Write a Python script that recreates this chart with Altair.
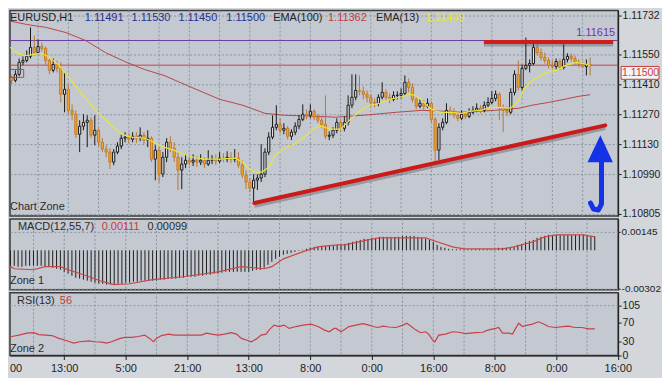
import altair as alt
import pandas as pd

FONT = "Liberation Sans"
BG = "#d3d6da"
PANEL = "#c4c9d1"
GRID = "#8a94a3"
DARK = "#1e1e1e"
NAVY = "#23308c"
RED = "#c63a3a"
YELLOW = "#e6e63a"
BLUE = "#1432e6"

# ---------------- data ----------------
first_open = 1.11457
close = [1.11443, 1.11429, 1.11457, 1.11513, 1.11522, 1.11541, 1.11583, 1.11559, 1.11587, 1.11578,
         1.11522, 1.11476, 1.11503, 1.11485, 1.11364, 1.11387, 1.11289, 1.11271, 1.11177, 1.11215,
         1.11233, 1.11243, 1.11173, 1.11196, 1.11140, 1.11108, 1.11094, 1.11047, 1.11094, 1.11122,
         1.11159, 1.11164, 1.11154, 1.11168, 1.11159, 1.11173, 1.11150, 1.11159, 1.11061, 1.11103,
         1.10991, 1.11070, 1.11140, 1.11112, 1.11070, 1.11010, 1.11038, 1.11056, 1.11047, 1.11056,
         1.11047, 1.11056, 1.11038, 1.11056, 1.11061, 1.11052, 1.11066, 1.11061, 1.11070, 1.11061,
         1.11066, 1.11033, 1.10987, 1.10954, 1.10926, 1.10963, 1.10973, 1.10991, 1.11094, 1.11164,
         1.11210, 1.11224, 1.11196, 1.11205, 1.11168, 1.11187, 1.11215, 1.11247, 1.11271, 1.11266,
         1.11285, 1.11257, 1.11243, 1.11224, 1.11168, 1.11173, 1.11196, 1.11233, 1.11205, 1.11233,
         1.11313, 1.11350, 1.11382, 1.11378, 1.11364, 1.11350, 1.11326, 1.11322, 1.11350, 1.11373,
         1.11350, 1.11340, 1.11359, 1.11359, 1.11368, 1.11420, 1.11396, 1.11340, 1.11308, 1.11322,
         1.11308, 1.11322, 1.11247, 1.11103, 1.11210, 1.11233, 1.11289, 1.11280, 1.11266, 1.11252,
         1.11271, 1.11261, 1.11280, 1.11289, 1.11299, 1.11289, 1.11313, 1.11326, 1.11345, 1.11364,
         1.11303, 1.11289, 1.11280, 1.11373, 1.11457, 1.11396, 1.11485, 1.11499, 1.11508, 1.11583,
         1.11559, 1.11536, 1.11522, 1.11499, 1.11494, 1.11517, 1.11489, 1.11527, 1.11541, 1.11531,
         1.11513, 1.11503, 1.11494, 1.11503, 1.11500]
high = [1.11466, 1.11452, 1.11476, 1.11531, 1.11541, 1.11569, 1.11676, 1.11638, 1.11620, 1.11606,
        1.11587, 1.11531, 1.11531, 1.11522, 1.11513, 1.11466, 1.11410, 1.11317, 1.11289, 1.11243,
        1.11271, 1.11266, 1.11257, 1.11266, 1.11205, 1.11159, 1.11126, 1.11112, 1.11108, 1.11140,
        1.11177, 1.11187, 1.11182, 1.11187, 1.11187, 1.11210, 1.11187, 1.11196, 1.11168, 1.11126,
        1.11117, 1.11094, 1.11159, 1.11168, 1.11140, 1.11094, 1.11070, 1.11084, 1.11080, 1.11084,
        1.11075, 1.11084, 1.11070, 1.11103, 1.11080, 1.11084, 1.11094, 1.11089, 1.11098, 1.11094,
        1.11108, 1.11094, 1.11056, 1.11010, 1.10973, 1.10991, 1.10991, 1.11131, 1.11112, 1.11187,
        1.11266, 1.11313, 1.11252, 1.11229, 1.11215, 1.11201, 1.11233, 1.11266, 1.11317, 1.11294,
        1.11317, 1.11294, 1.11271, 1.11261, 1.11359, 1.11191, 1.11210, 1.11252, 1.11247, 1.11261,
        1.11359, 1.11457, 1.11457, 1.11452, 1.11401, 1.11382, 1.11364, 1.11345, 1.11364, 1.11420,
        1.11387, 1.11368, 1.11378, 1.11378, 1.11392, 1.11452, 1.11438, 1.11415, 1.11350, 1.11340,
        1.11336, 1.11345, 1.11331, 1.11257, 1.11229, 1.11252, 1.11322, 1.11308, 1.11299, 1.11280,
        1.11289, 1.11285, 1.11299, 1.11308, 1.11322, 1.11313, 1.11331, 1.11350, 1.11378, 1.11382,
        1.11373, 1.11317, 1.11308, 1.11392, 1.11476, 1.11522, 1.11503, 1.11629, 1.11527, 1.11606,
        1.11597, 1.11578, 1.11559, 1.11536, 1.11522, 1.11531, 1.11531, 1.11597, 1.11555, 1.11555,
        1.11545, 1.11527, 1.11517, 1.11527, 1.11536]
low = [1.11429, 1.11410, 1.11420, 1.11448, 1.11499, 1.11513, 1.11531, 1.11545, 1.11550, 1.11564,
       1.11503, 1.11457, 1.11466, 1.11466, 1.11326, 1.11280, 1.11271, 1.11243, 1.11159, 1.11094,
       1.11196, 1.11117, 1.11159, 1.11126, 1.11122, 1.11094, 1.11070, 1.11015, 1.11033, 1.11084,
       1.11108, 1.11140, 1.11136, 1.11140, 1.11136, 1.11145, 1.11131, 1.11117, 1.11047, 1.10963,
       1.10954, 1.10977, 1.11047, 1.11094, 1.11047, 1.10917, 1.10921, 1.11019, 1.11033, 1.11029,
       1.11024, 1.11033, 1.11019, 1.11029, 1.11038, 1.11033, 1.11042, 1.11047, 1.11047, 1.11042,
       1.11047, 1.11019, 1.10973, 1.10921, 1.10907, 1.10861, 1.10917, 1.10954, 1.10977, 1.11080,
       1.11154, 1.11196, 1.11182, 1.11177, 1.11154, 1.11150, 1.11173, 1.11201, 1.11238, 1.11247,
       1.11252, 1.11243, 1.11229, 1.11205, 1.11154, 1.11150, 1.11159, 1.11182, 1.11187, 1.11191,
       1.11219, 1.11299, 1.11336, 1.11359, 1.11340, 1.11326, 1.11308, 1.11303, 1.11308, 1.11340,
       1.11336, 1.11322, 1.11331, 1.11340, 1.11345, 1.11359, 1.11373, 1.11326, 1.11294, 1.11299,
       1.11289, 1.11299, 1.11233, 1.11047, 1.11056, 1.11196, 1.11224, 1.11266, 1.11252, 1.11238,
       1.11243, 1.11247, 1.11252, 1.11271, 1.11280, 1.11275, 1.11280, 1.11303, 1.11317, 1.11331,
       1.11243, 1.11187, 1.11261, 1.11271, 1.11359, 1.11382, 1.11382, 1.11476, 1.11466, 1.11499,
       1.11545, 1.11522, 1.11508, 1.11485, 1.11480, 1.11480, 1.11476, 1.11480, 1.11513, 1.11517,
       1.11499, 1.11489, 1.11485, 1.11452, 1.11452]

ema13_idx = [0, 1.6, 3.2, 5, 6.8, 8.4, 10.2, 12, 13.6, 15.4, 17.2, 18.8, 20.6, 22.4, 23.9, 25.8, 27.6,
             30.2, 32.8, 36.1, 38.7, 41.3, 43.9, 46.5, 49.1, 51.7, 56.1, 60.2, 62.1, 63.9, 65.4, 67.2,
             69.1, 70.6, 73.2, 75.8, 78.4, 81, 82.8, 85.4, 88, 90.6, 93.2, 95.8, 98.4, 101, 103.6,
             106.1, 107.9, 109.5, 111.3, 113.1, 114.7, 117.3, 119.9, 122.5, 125.1, 127.7, 130, 132.9,
             134.7, 136.5, 139.1, 141.7, 143.2, 145, 147.6, 150.2, 152, 154]
ema13_val = [1.11592, 1.11569, 1.11550, 1.11545, 1.11550, 1.11555, 1.11545, 1.11522, 1.11499, 1.11457,
             1.11420, 1.11382, 1.11345, 1.11308, 1.11275, 1.11247, 1.11215, 1.11177, 1.11164, 1.11159,
             1.11140, 1.11117, 1.11103, 1.11084, 1.11070, 1.11061, 1.11061, 1.11066, 1.11047, 1.11015,
             1.11001, 1.11001, 1.11024, 1.11080, 1.11112, 1.11131, 1.11164, 1.11205, 1.11215, 1.11201,
             1.11201, 1.11247, 1.11289, 1.11313, 1.11322, 1.11340, 1.11350, 1.11364, 1.11359, 1.11336,
             1.11303, 1.11285, 1.11280, 1.11280, 1.11275, 1.11285, 1.11289, 1.11303, 1.11303, 1.11299,
             1.11326, 1.11387, 1.11434, 1.11457, 1.11471, 1.11476, 1.11499, 1.11513, 1.11508, 1.11499]
ema100_idx = [0, 5, 10.2, 15.4, 20.6, 25.8, 30.9, 36.1, 41.3, 47.3, 56.1, 62.1, 68, 73.2, 82, 86.7,
              93.9, 102.8, 109.5, 114.7, 119.9, 128.7, 135.2, 138.6, 143, 147.1, 150.8, 154]
ema100_val = [1.11708, 1.11690, 1.11676, 1.11652, 1.11615, 1.11559, 1.11517, 1.11480, 1.11452, 1.11406,
              1.11340, 1.11313, 1.11275, 1.11266, 1.11261, 1.11257, 1.11266, 1.11280, 1.11289, 1.11285,
              1.11280, 1.11289, 1.11299, 1.11313, 1.11326, 1.11340, 1.11354, 1.11362]

macd_hist = [-0.00106, -0.00114, -0.00122, -0.00122, -0.00129, -0.00129, -0.00122, -0.00122, -0.00122, -0.00122,
             -0.00122, -0.00129, -0.00129, -0.00137, -0.00145, -0.00153, -0.00169, -0.00184, -0.00200, -0.00216,
             -0.00223, -0.00231, -0.00239, -0.00247, -0.00255, -0.00263, -0.00263, -0.00270, -0.00270, -0.00270,
             -0.00263, -0.00263, -0.00255, -0.00255, -0.00247, -0.00247, -0.00239, -0.00239, -0.00239, -0.00239,
             -0.00239, -0.00231, -0.00231, -0.00223, -0.00223, -0.00223, -0.00216, -0.00216, -0.00208, -0.00208,
             -0.00208, -0.00200, -0.00200, -0.00192, -0.00192, -0.00184, -0.00184, -0.00176, -0.00169, -0.00169,
             -0.00169, -0.00169, -0.00169, -0.00169, -0.00169, -0.00161, -0.00153, -0.00153, -0.00137, -0.00114,
             -0.00090, -0.00067, -0.00051, -0.00035, -0.00027, -0.00020, -0.00012, -0.00004, 0.00004, 0.00012,
             0.00020, 0.00027, 0.00027, 0.00035, 0.00035, 0.00035, 0.00035, 0.00043, 0.00043, 0.00051,
             0.00059, 0.00067, 0.00074, 0.00082, 0.00090, 0.00090, 0.00098, 0.00098, 0.00106, 0.00106,
             0.00106, 0.00106, 0.00106, 0.00106, 0.00114, 0.00114, 0.00114, 0.00114, 0.00106, 0.00098,
             0.00090, 0.00082, 0.00067, 0.00043, 0.00027, 0.00020, 0.00012, 0.00008, 0.00008, 0.00008,
             0.00008, 0.00008, 0.00008, 0.00008, 0.00008, 0.00008, 0.00008, 0.00008, 0.00008, 0.00020,
             0.00020, 0.00020, 0.00020, 0.00027, 0.00043, 0.00051, 0.00067, 0.00074, 0.00082, 0.00098,
             0.00106, 0.00114, 0.00122, 0.00122, 0.00122, 0.00122, 0.00122, 0.00122, 0.00122, 0.00122,
             0.00122, 0.00122, 0.00114, 0.00114, 0.00111]
sig_idx = [0, 3, 8, 11, 15, 17, 21, 26, 29, 33, 39, 47, 56, 62, 68, 70, 73, 78, 82, 87,
           89, 95, 98, 104, 110, 113, 117, 120, 130, 133, 138, 141, 144, 151, 154]
sig_val = [-0.00090, -0.00145, -0.00153, -0.00129, -0.00129, -0.00153, -0.00192, -0.00247, -0.00270, -0.00263,
           -0.00231, -0.00208, -0.00169, -0.00129, -0.00145, -0.00129, -0.00067, -0.00012, 0.00027, 0.00043,
           0.00043, 0.00082, 0.00098, 0.00098, 0.00098, 0.00067, 0.00027, 0.00012, 0.00012, 0.00027,
           0.00067, 0.00106, 0.00122, 0.00122, 0.00106]

rsi_idx = [0, 2.4, 4.2, 6.3, 8.1, 9.4, 12.8, 14.6, 16.7, 18.5, 20, 22.4, 23.9, 25.8, 27, 28.3, 30.2, 31.7,
           33.5, 35.3, 36.9, 38.2, 39.2, 40, 41.3, 43.1, 44.7, 46.5, 49.1, 51.7, 53, 54.3, 56.1, 57.7,
           59.5, 60.8, 62.1, 63.9, 64.7, 66, 67.2, 68.5, 69.3, 70.6, 71.9, 73.2, 74.5, 76.3, 78.1, 80.2,
           82, 83.6, 84.9, 86.2, 86.7, 88, 90.1, 91.9, 93.7, 95.3, 96.3, 97.6, 98.9, 100.4, 102.3, 104.1,
           105.1, 106.1, 107.4, 108.7, 110, 110.8, 111.8, 112.4, 113.4, 115.2, 117, 118.6, 120.4, 123,
           124.8, 126.4, 128.2, 129, 130, 131.6, 132.6, 133.9, 134.2, 135.2, 136.5, 137.8, 139.3, 140.6,
           141.9, 143.8, 145.6, 147.1, 148.9, 150.7, 152.3, 154]
rsi_val = [36, 40, 43, 47, 48, 44, 42, 36, 31, 26, 29, 31, 29, 28, 26, 29, 35, 38, 38, 40,
           43, 36, 29, 36, 42, 45, 43, 43, 43, 43, 47, 45, 43, 45, 48, 45, 36, 31, 29, 35,
           43, 45, 54, 64, 61, 64, 57, 61, 64, 66, 61, 54, 50, 57, 57, 50, 61, 64, 67, 64,
           61, 59, 62, 60, 59, 64, 68, 62, 54, 48, 50, 45, 33, 29, 43, 45, 50, 49, 46, 48,
           49, 54, 57, 59, 47, 47, 45, 64, 68, 61, 64, 66, 71, 67, 61, 59, 61, 62, 59, 59,
           56, 56]

time_labels = ["13:00", "5:00", "21:00", "13:00", "8:00", "0:00", "16:00", "8:00", "0:00", "16:00"]
label_idx = [16, 32, 48, 64, 80, 96, 112, 128, 144, 160]
grid_idx = [8, 16, 24, 32, 40, 48, 56, 64, 72, 80, 88, 96, 104, 112, 120, 128, 136, 144, 152]
price_ticks = [1.10805, 1.10990, 1.11130, 1.11270, 1.11410, 1.11550, 1.11732]
macd_ticks = [0.00145, -0.00302]
rsi_ticks = [0, 30, 70, 105]

level_purple = 1.11615
level_last = 1.11500
resist_idx = [125.9, 160.08]
resist_p = 1.11608
trend_idx = [65.2, 158.0]
trend_p = [1.10856, 1.11219]
arrow_idx = [154.1, 154.9, 156.2, 157.0, 157.0]
arrow_p = [1.10856, 1.10828, 1.10824, 1.10852, 1.11047]
head_idx = [153.3, 156.7, 160.0]
head_top = [1.11047, 1.11173, 1.11047]
head_base = 1.11047
box_idx = [0.34, 4.2]
box_p = [1.11443, 1.11480]

# ---------------- scales / axes ----------------
xs = alt.Scale(domain=[1.893, 160.08], nice=False, zero=False)
ys_main = alt.Scale(domain=[1.10796, 1.11755], nice=False, zero=False)
ys_macd = alt.Scale(domain=[-0.00310, 0.00247], nice=False, zero=False)
ys_rsi = alt.Scale(domain=[0, 132.3], nice=False, zero=False)

common_axis = dict(orient="right", title=None, tickColor=DARK, domainColor=DARK,
                   labelColor=DARK, labelFont=FONT, labelOverlap=False)
ax_main = alt.Axis(values=price_ticks, format=".5f", grid=True, gridColor=GRID,
                   gridDash=[2, 2], tickSize=3, labelPadding=1, labelFontSize=10.5, **common_axis)
ax_macd = alt.Axis(values=macd_ticks, grid=True, gridColor=GRID, gridDash=[2, 2],
                   tickSize=2, labelPadding=1, labelFontSize=10,
                   labelExpr="datum.value < 0 ? '-' + format(-datum.value, '.5f') : format(datum.value, '.5f')",
                   **common_axis)
ax_rsi = alt.Axis(values=rsi_ticks, grid=False, tickSize=3, labelPadding=1, labelFontSize=10.5, **common_axis)
lab_js = "[" + ",".join("'%s'" % t for t in time_labels) + "]"
ax_x = alt.Axis(values=label_idx, labelExpr=lab_js + "[round(datum.value / 16) - 1]",
                title=None, grid=False, tickSize=4, tickColor=DARK, domainColor=DARK,
                labelColor=DARK, labelFont=FONT, labelFontSize=11, labelPadding=3,
                labelFlush=False, labelOverlap=False)


def X(field="i", ax=None):
    return alt.X(f"{field}:Q", scale=xs, axis=ax, title=None)


def YM(field):
    return alt.Y(f"{field}:Q", scale=ys_main, axis=ax_main, title=None)


ONE = pd.DataFrame({"a": [0]})


def txt(t, px, py, color, align="left", baseline="middle", size=11):
    return alt.Chart(ONE).mark_text(text=t, align=align, baseline=baseline, color=color,
                                    font=FONT, fontSize=size).encode(x=alt.value(px), y=alt.value(py))


# ---------------- frames ----------------
n = len(close)
open_ = [first_open] + close[:-1]
cdf = pd.DataFrame({"i": list(range(n)), "o": open_, "c": close, "h": high, "l": low})
cdf["dir"] = ["up" if c >= o else "down" for o, c in zip(open_, close)]
gdf = pd.DataFrame({"i": grid_idx})
e13 = pd.DataFrame({"i": ema13_idx, "v": ema13_val})
e100 = pd.DataFrame({"i": ema100_idx, "v": ema100_val})
mdf = pd.DataFrame({"i": list(range(n)), "v": macd_hist, "z": [0.0] * n})
sdf = pd.DataFrame({"i": sig_idx, "v": sig_val})
rdf = pd.DataFrame({"i": rsi_idx, "v": rsi_val})

W = 610

# ---------------- main panel ----------------
vgrid = alt.Chart(gdf).mark_rule(color=GRID, strokeDash=[2, 2], strokeWidth=1).encode(x=X())
hl = pd.DataFrame({"p": [level_purple, level_last], "c": ["#6b3aa6", "#c84444"]})
levels = alt.Chart(hl).mark_rule(strokeWidth=1).encode(y=YM("p"), color=alt.Color("c:N", scale=None))
ema100 = alt.Chart(e100).mark_line(color="#b84646", strokeWidth=1, clip=True).encode(x=X(), y=YM("v"))
wicks = alt.Chart(cdf).mark_rule(strokeWidth=1, clip=True).encode(
    x=X(), y=YM("l"), y2="h:Q",
    color=alt.Color("dir:N", scale=alt.Scale(domain=["up", "down"], range=["#1a1a1a", "#b8783c"]), legend=None))
bodies = alt.Chart(cdf).mark_bar(size=2.2, strokeWidth=1, clip=True).encode(
    x=X(), y=YM("o"), y2="c:Q",
    fill=alt.Fill("dir:N", scale=alt.Scale(domain=["up", "down"], range=["#e2e3e5", "#f2a52c"]), legend=None),
    stroke=alt.Stroke("dir:N", scale=alt.Scale(domain=["up", "down"], range=["#1a1a1a", "#c47a2a"]), legend=None))
ema13 = alt.Chart(e13).mark_line(color=YELLOW, strokeWidth=1.2, clip=True).encode(x=X(), y=YM("v"))
rbox = alt.Chart(pd.DataFrame({"i": [box_idx[0]], "i2": [box_idx[1]], "p": [box_p[0]], "p2": [box_p[1]]})).mark_rect(
    fillOpacity=0, stroke="#c43c3c", strokeWidth=1, clip=True).encode(x=X(), x2="i2:Q", y=YM("p"), y2="p2:Q")
res_df = pd.DataFrame({"i": resist_idx, "p": [resist_p] * 2, "ps": [resist_p - 0.00011] * 2})
res_sh = alt.Chart(res_df).mark_line(color="#303030", opacity=0.3, strokeWidth=4, clip=True).encode(x=X(), y=YM("ps"))
res = alt.Chart(res_df).mark_line(color="#d01c1c", strokeWidth=4, clip=True).encode(x=X(), y=YM("p"))
tr_df = pd.DataFrame({"i": trend_idx, "p": trend_p, "ps": [p - 0.00013 for p in trend_p]})
tr_sh = alt.Chart(tr_df).mark_line(color="#303030", opacity=0.3, strokeWidth=4, clip=True).encode(x=X(), y=YM("ps"))
tr = alt.Chart(tr_df).mark_line(color="#cc1a1a", strokeWidth=4, strokeCap="round", clip=True).encode(x=X(), y=YM("p"))
ar_df = pd.DataFrame({"k": list(range(len(arrow_idx))), "i": arrow_idx, "p": arrow_p})
arrow = alt.Chart(ar_df).mark_line(color=BLUE, strokeWidth=5, strokeCap="round", strokeJoin="round",
                                   clip=True).encode(x=X(), y=YM("p"), order="k:Q")
hd_df = pd.DataFrame({"i": head_idx, "p": head_top, "p2": [head_base] * 3})
head = alt.Chart(hd_df).mark_area(color=BLUE, clip=True).encode(x=X(), y=YM("p"), y2="p2:Q")

title_txt = ["EURUSD,H1", "1.11491", "1.11530", "1.11450", "1.11500", "EMA(100)", "1.11362", "EMA(13)", "1.11499"]
title_px = [0, 75, 122, 169, 217, 264, 319, 367, 417]
title_col = [DARK, NAVY, NAVY, NAVY, NAVY, DARK, RED, DARK, YELLOW]
titles = [txt(t, px, 1, c, baseline="top") for t, px, c in zip(title_txt, title_px, title_col)]

purple_lab = alt.Chart(pd.DataFrame({"p": [level_purple]})).mark_text(
    text="1.11615", align="right", baseline="bottom", dy=-3, color="#7232b0", font=FONT, fontSize=11
).encode(x=alt.value(607), y=YM("p"))
pb = alt.Chart(pd.DataFrame({"p": [1.11494], "p2": [1.11434]})).mark_rect(
    fill="#f4f4f4", stroke="#c43c3c", strokeWidth=1).encode(x=alt.value(613), x2=alt.value(651), y=YM("p"), y2="p2:Q")
pb_txt = alt.Chart(pd.DataFrame({"p": [1.11464]})).mark_text(
    text="1.11500", align="left", baseline="middle", color="#c43c3c", font=FONT, fontSize=10.5
).encode(x=alt.value(614), y=YM("p"))

main = alt.layer(
    vgrid, levels, ema100, wicks, bodies, ema13, rbox, res_sh, res, tr_sh, tr, arrow, head,
    purple_lab, pb, pb_txt, txt("Chart Zone", 0, 197, "#2a2a2a"), *titles
).properties(width=W, height=206)

# ---------------- MACD panel ----------------
hist = alt.Chart(mdf).mark_rule(color="#1e1e1e", strokeWidth=1, clip=True).encode(
    x=X(), y=alt.Y("z:Q", scale=ys_macd, axis=ax_macd, title=None), y2="v:Q")
sig = alt.Chart(sdf).mark_line(color="#c84848", strokeWidth=1.2, clip=True).encode(
    x=X(), y=alt.Y("v:Q", scale=ys_macd, axis=ax_macd, title=None))
macd = alt.layer(
    vgrid, hist, sig,
    txt("MACD(12,55,7)", 8, 8, "#2a2a2a"), txt("0.00111", 92, 8, RED), txt("0.00099", 138, 8, "#2a2a2a"),
    txt("Zone 1", 0, 62, "#2a2a2a")
).properties(width=W, height=71)

# ---------------- RSI panel ----------------
vgrid_r = alt.Chart(gdf).mark_rule(color=GRID, strokeDash=[2, 2], strokeWidth=1).encode(x=X(ax=ax_x))
h105 = alt.Chart(pd.DataFrame({"v": [105]})).mark_rule(color=GRID, strokeDash=[2, 2], strokeWidth=1).encode(
    y=alt.Y("v:Q", scale=ys_rsi, axis=ax_rsi, title=None))
rsi_line = alt.Chart(rdf).mark_line(color="#c8404a", strokeWidth=1.2, clip=True).encode(
    x=X(ax=ax_x), y=alt.Y("v:Q", scale=ys_rsi, axis=ax_rsi, title=None))
rsi = alt.layer(
    vgrid_r, h105, rsi_line,
    txt("RSI(13)", 7, 8, "#2a2a2a"), txt("56", 50, 8, RED), txt("Zone 2", 0, 56, "#2a2a2a"),
    txt("00", 0, 77, DARK)
).properties(width=W, height=63)

chart = alt.vconcat(main, macd, rsi, spacing=3, bounds="flush").properties(
    padding={"left": 0, "top": 0, "right": 0, "bottom": 2}
).configure(background=BG, font=FONT).configure_view(fill=PANEL, stroke="#3a3a3a", strokeWidth=1.5)

chart.save("out.html", embed_options={"renderer": "svg", "actions": False})
